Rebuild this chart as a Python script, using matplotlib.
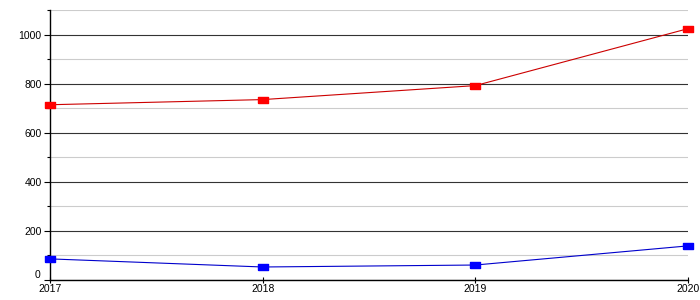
import matplotlib.pyplot as plt
from matplotlib.ticker import MultipleLocator
from matplotlib.transforms import ScaledTranslation

plt.rcParams['font.family'] = ['Liberation Sans', 'DejaVu Sans']

# Dane
years = [2017, 2018, 2019, 2020]
red_values = [714, 735, 792, 1024]
blue_values = [86, 53, 61, 139]
y_ticks = [0, 200, 400, 600, 800, 1000]

fig = plt.figure(figsize=(7, 3), dpi=100)
ax = fig.add_axes([50 / 700, 20 / 300, 638 / 700, 270 / 300])

# Siatka pozioma
ax.set_yticks(y_ticks)
ax.yaxis.set_minor_locator(MultipleLocator(100))
ax.grid(which='major', axis='y', color='#333333', linewidth=0.8)
ax.grid(which='minor', axis='y', color='#cccccc', linewidth=0.8)
ax.set_axisbelow(True)

# Prostokątne znaczniki
rect = [(-1, -0.6), (1, -0.6), (1, 0.6), (-1, 0.6), (-1, -0.6)]
ax.plot(years, red_values, color='#cc0000', linewidth=0.8,
        marker=rect, markersize=7.5, markerfacecolor='#ff0000',
        markeredgecolor='#ff0000', clip_on=False, zorder=3)
ax.plot(years, blue_values, color='#0000cc', linewidth=0.8,
        marker=rect, markersize=7.5, markerfacecolor='#0000ff',
        markeredgecolor='#0000ff', clip_on=False, zorder=3)

ax.set_xlim(2017, 2020)
ax.set_ylim(0, 1100)
ax.set_xticks(years)
ax.set_xticklabels([str(y) for y in years])

ax.spines['right'].set_visible(False)
ax.spines['top'].set_visible(False)
ax.spines['left'].set_linewidth(1)
ax.spines['bottom'].set_linewidth(1)

ax.tick_params(axis='y', which='major', length=4, width=0.8, labelsize=7.5, pad=2)
ax.tick_params(axis='y', which='minor', length=2, width=0.8)
ax.tick_params(axis='x', which='major', length=4, width=0.8, direction='inout',
               labelsize=7.5, pad=1)

# Podnieś etykietę "0", żeby nie nachodziła na "2017"
zero_label = ax.yaxis.get_major_ticks()[0].label1
zero_label.set_transform(zero_label.get_transform()
                         + ScaledTranslation(-1 / 72, 4 / 72, fig.dpi_scale_trans))

plt.savefig('out.png', dpi=100)
